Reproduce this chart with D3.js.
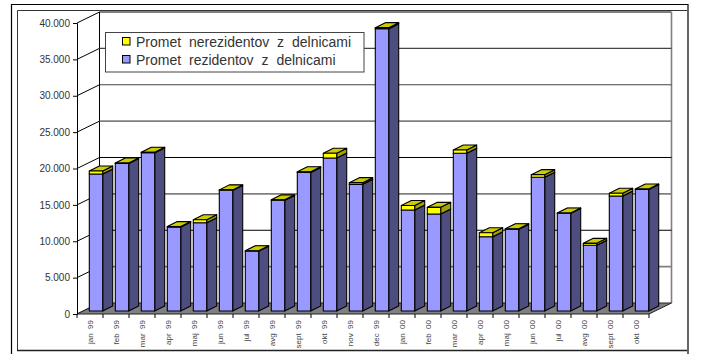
<!DOCTYPE html>
<html>
<head>
<meta charset="utf-8">
<script src="https://cdn.jsdelivr.net/npm/d3@7"></script>
<style>
    html, body { margin: 0; padding: 0; background: #fff; }
    text { font-family: "Liberation Sans", Arial, sans-serif; }
</style>
</head>
<body>
<div id="chart"></div>
<script>
// monthly turnover with shares, in thousands of SIT
var months = ["jan  99", "feb  99", "mar  99", "apr  99", "maj  99", "jun  99", "jul  99", "avg  99", "sept  99", "okt  99", "nov  99", "dec  99",
    "jan  00", "feb  00", "mar  00", "apr  00", "maj  00", "jun  00", "jul  00", "avg  00", "sept  00", "okt  00"];
var residents = [18830, 20275, 21760, 11550, 12130, 16590, 8250, 15220, 19050, 21030, 17410, 38800,
    13880, 13330, 21680, 10210, 11250, 18380, 13430, 9030, 15810, 16700];
var nonResidents = [410, 60, 60, 50, 420, 60, 40, 60, 100, 650, 230, 150,
    620, 920, 450, 550, 60, 360, 40, 270, 370, 60];
var yTicks = [0, 5000, 10000, 15000, 20000, 25000, 30000, 35000, 40000];
var legendLabels = ["Promet nerezidentov z delnicami", "Promet rezidentov z delnicami"];

var svgWidth = 702;
var svgHeight = 354;

// front plane of the plot, the back wall sits one wall offset behind it
var plot = { left: 77, right: 649, top: 23, bottom: 314 };
var wall = { dx: 22.5, dy: -11 };
var barDepth = { dx: 10, dy: -5 };
var barShift = { dx: 6, dy: -3 };

var svg = d3.select("#chart")
    .append("svg")
    .attr("width", svgWidth)
    .attr("height", svgHeight)
    .style("display", "block");

var x = d3.scaleBand()
    .domain(months)
    .range([plot.left, plot.right])
    .paddingInner(0.485)
    .paddingOuter(0.2425);

var y = d3.scaleLinear()
    .domain([0, 40000])
    .range([plot.bottom, plot.top]);

var locale = d3.formatLocale({ decimal: ",", thousands: ".", grouping: [3], currency: ["", ""] });

function poly(points) {
    return "M" + points.map(p => p.join(",")).join("L") + "Z";
}

// outer frames
svg.append("path")
    .attr("d", "M11.5,354V4.5H688V354")
    .attr("fill", "none")
    .attr("stroke", "#000")
    .attr("stroke-width", 1.2);
svg.append("path")
    .attr("d", "M17.5,350.5V10.5H687")
    .attr("fill", "none")
    .attr("stroke", "#333")
    .attr("stroke-width", 1);
svg.append("line")
    .attr("x1", 17).attr("x2", 687)
    .attr("y1", 350.5).attr("y2", 350.5)
    .attr("stroke", "#222")
    .attr("stroke-width", 1.5);

// back wall
var backLeft = plot.left + wall.dx;
var backRight = plot.right + wall.dx;
svg.append("path")
    .attr("d", "M" + backLeft + "," + (y(0) + wall.dy) + "V" + (plot.top + wall.dy) + "H" + backRight)
    .attr("fill", "none")
    .attr("stroke", "#000")
    .attr("stroke-width", 1);
svg.append("line")
    .attr("x1", backRight).attr("x2", backRight)
    .attr("y1", plot.top + wall.dy).attr("y2", y(0) + wall.dy)
    .attr("stroke", "#808080")
    .attr("stroke-width", 1.6);

// gridlines on the wall, and their diagonals across the left side
var gridGroup = svg.append("g");
var grayGrid = [5000, 15000, 25000];
gridGroup.selectAll(".grid")
    .data(yTicks.filter(d => d > 0 && d < 40000))
    .enter()
    .append("line")
    .attr("class", "grid")
    .attr("x1", backLeft)
    .attr("x2", backRight)
    .attr("y1", d => y(d) + wall.dy)
    .attr("y2", d => y(d) + wall.dy)
    .attr("stroke", d => grayGrid.includes(d) ? "#808080" : (d >= 30000 ? "#444" : "#000"))
    .attr("stroke-width", d => grayGrid.includes(d) ? 1.6 : 1.1);
gridGroup.selectAll(".diag")
    .data(yTicks)
    .enter()
    .append("line")
    .attr("class", "diag")
    .attr("x1", plot.left)
    .attr("x2", backLeft)
    .attr("y1", d => y(d))
    .attr("y2", d => y(d) + wall.dy)
    .attr("stroke", "#000")
    .attr("stroke-width", 1);

// floor
svg.append("path")
    .attr("d", poly([[plot.left, y(0)], [backLeft, y(0) + wall.dy], [backRight, y(0) + wall.dy], [plot.right, y(0)]]))
    .attr("fill", "#808080")
    .attr("stroke", "#222")
    .attr("stroke-width", 1);

// a box is three faces: front, right side and lid
function drawBox(group, left, top, bottom, front, side, lid) {
    var w = x.bandwidth();
    var d = barDepth;
    group.append("path")
        .attr("d", poly([[left + w, top], [left + w + d.dx, top + d.dy], [left + w + d.dx, bottom + d.dy], [left + w, bottom]]))
        .attr("fill", side);
    group.append("path")
        .attr("d", poly([[left, top], [left + d.dx, top + d.dy], [left + w + d.dx, top + d.dy], [left + w, top]]))
        .attr("fill", lid);
    group.append("rect")
        .attr("x", left)
        .attr("y", top)
        .attr("width", w)
        .attr("height", bottom - top)
        .attr("fill", front);
}

var barsGroup = svg.append("g")
    .attr("stroke", "#000")
    .attr("stroke-width", 1.1)
    .attr("stroke-linejoin", "round");

months.forEach(function(month, i) {
    var left = x(month) + barShift.dx;
    var group = barsGroup.append("g");
    var yBase = y(0) + barShift.dy;
    var yRes = y(residents[i]) + barShift.dy;
    var yTotal = y(residents[i] + nonResidents[i]) + barShift.dy;
    drawBox(group, left, yRes, yBase, "#9999ff", "#4d4d80", "#cccc00");
    drawBox(group, left, yTotal, yRes, "#ffff00", "#a3a300", "#cccc00");
});

// axes
var yAxis = svg.append("g")
    .attr("transform", `translate(${plot.left}, 0)`)
    .call(d3.axisLeft(y).tickValues(yTicks).tickSize(4).tickPadding(3).tickFormat(locale.format(",d")));
yAxis.selectAll("text")
    .attr("font-size", "10px")
    .attr("font-family", "'Liberation Sans', Arial, sans-serif")
    .attr("fill", "#333");
yAxis.selectAll("line, path").attr("stroke", "#000");

var xAxis = svg.append("g")
    .attr("transform", `translate(0, ${plot.bottom})`)
    .call(d3.axisBottom(x).tickSize(0).tickPadding(0));
xAxis.select("path").remove();
xAxis.selectAll("text")
    .attr("transform", "translate(0, 6) rotate(-90)")
    .attr("text-anchor", "end")
    .attr("dy", "0.32em")
    .attr("x", 0)
    .attr("y", 0)
    .attr("font-size", "8px")
    .attr("font-family", "'Liberation Sans', Arial, sans-serif")
    .attr("fill", "#444")
    .style("white-space", "pre");

// tick marks fall between the months, not on them
svg.append("g")
    .selectAll("line")
    .data(d3.range(months.length + 1))
    .enter()
    .append("line")
    .attr("x1", d => plot.left + d * x.step())
    .attr("x2", d => plot.left + d * x.step())
    .attr("y1", plot.bottom)
    .attr("y2", plot.bottom + 4)
    .attr("stroke", "#000");

// legend
var legend = svg.append("g");
legend.append("rect")
    .attr("x", 105.5)
    .attr("y", 32.5)
    .attr("width", 258.5)
    .attr("height", 39.5)
    .attr("fill", "#fff")
    .attr("stroke", "#444")
    .attr("stroke-width", 1);
var legendColors = ["#ffff00", "#9999ff"];
legend.selectAll(".swatch")
    .data(legendLabels)
    .enter()
    .append("rect")
    .attr("class", "swatch")
    .attr("x", 122.5)
    .attr("y", (d, i) => 37.5 + i * 18)
    .attr("width", 7.5)
    .attr("height", 7.5)
    .attr("fill", (d, i) => legendColors[i])
    .attr("stroke", "#000");
legend.selectAll(".label")
    .data(legendLabels)
    .enter()
    .append("text")
    .attr("class", "label")
    .attr("x", 136)
    .attr("y", (d, i) => 47 + i * 18)
    .attr("font-size", "14px")
    .attr("word-spacing", "4px")
    .attr("fill", "#333")
    .text(d => d);
</script>
</body>
</html>
